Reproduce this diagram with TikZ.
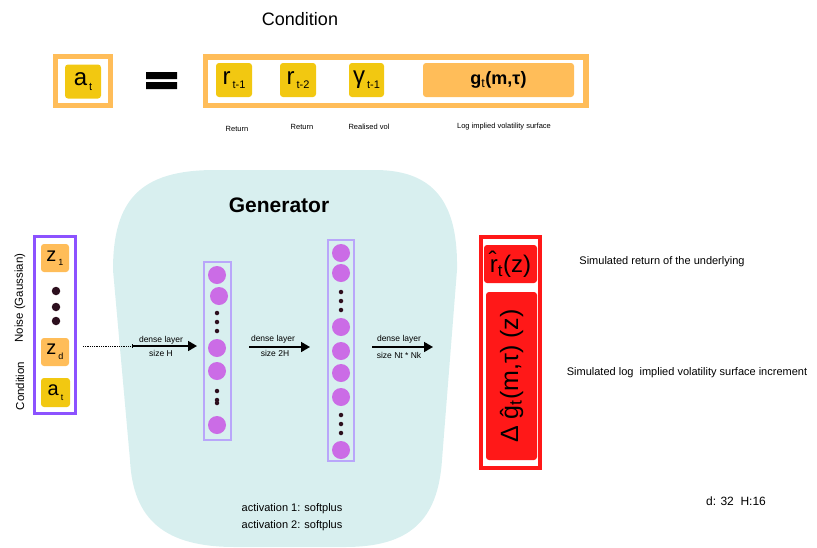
\documentclass[tikz,border=0pt]{standalone}
\usepackage{fontspec}
\setmainfont{Liberation Sans}
\usetikzlibrary{positioning,arrows.meta,backgrounds}

\definecolor{condorange}{RGB}{255,189,89}
\definecolor{symyellow}{RGB}{242,200,17}
\definecolor{noisepurple}{RGB}{140,82,255}
\definecolor{layerlilac}{RGB}{185,166,250}
\definecolor{neuronpink}{RGB}{203,108,230}
\definecolor{dotdark}{RGB}{45,15,30}
\definecolor{genteal}{RGB}{216,239,239}
\definecolor{outred}{RGB}{255,24,24}

\newcommand{\lowsub}[2][11]{\kern2pt\raisebox{-4.5pt}{\fontsize{#1}{#1}\selectfont #2}}

\begin{document}
\begin{tikzpicture}[x=1pt,y=-1pt,
   framebox/.style={draw=#1,line width=5pt,inner sep=0pt},
   symbox/.style={fill=#1,rounded corners=3pt,inner sep=0pt,minimum width=36pt,
   minimum height=34pt,font=\fontsize{24}{24}\selectfont},
   symbox/.default=symyellow,
   smalllabel/.style={font=\fontsize{7.5}{8}\selectfont},
   neuron/.style={circle,fill=neuronpink,minimum size=18pt,inner sep=0pt},
   gap/.style={circle,fill=dotdark,minimum size=4.5pt,inner sep=0pt},
   layerbox/.style={draw=layerlilac,line width=2pt,inner sep=0pt},
   dense/.style={line width=1.6pt,-{Triangle[length=9pt,width=10pt]}},
   layertext/.style={font=\fontsize{8.5}{9}\selectfont,inner sep=1pt},
   sidetext/.style={font=\fontsize{11}{12}\selectfont}]
 \useasboundingbox (0,0) rectangle (817,547);

 % generator background
 \fill[genteal] (113,270) .. controls (113,200) and (140,170) .. (215,170) -- (375,170)
   .. controls (440,170) and (458,210) .. (457,270) -- (442,460)
   .. controls (438,520) and (410,547) .. (345,547) -- (235,547)
   .. controls (165,547) and (133,520) .. (130,460) -- cycle;

 % condition row
 \node[font=\fontsize{18}{20}\selectfont] (condtitle) at (300,19) {Condition};
 \node[framebox=condorange,minimum width=55pt,minimum height=49pt] (atframe) at (82.5,81) {};
 \node[symbox] (atsym) at (83,81.5) {a\lowsub{t}};
 \fill (146,72) rectangle (177,79) (146,82) rectangle (177,89);
 \node[framebox=condorange,line width=5.5pt,minimum width=380.5pt,minimum height=48.5pt] (condframe) at (395.75,81.25) {};
 \node[symbox] (rone) at (234,80) {r\lowsub{t-1}};
 \node[symbox] (rtwo) at (298,80) {r\lowsub{t-2}};
 \node[symbox,minimum width=35pt] (volsym) at (366.5,80) {γ\lowsub{t-1}};
 \node[symbox=condorange,minimum width=151pt,font=\fontsize{18}{18}\selectfont\bfseries] (gsurf) at (498.5,80) {g\textsubscript{\mdseries t}(m,τ)};
 \node[smalllabel] (retlab1) at (237,129) {Return};
 \node[smalllabel] (retlab2) at (302,127) {Return};
 \node[smalllabel] (vollab) at (369,127) {Realised vol};
 \node[smalllabel] (surflab) at (504,127) {Log implied volatility surface};

 % input column
 \node[draw=noisepurple,line width=3pt,minimum width=41pt,minimum height=177pt,inner sep=0pt] (noisebox) at (55,325) {};
 \node[symbox=condorange,minimum width=28pt,minimum height=28pt,font=\fontsize{20}{20}\selectfont] (zone) at (55,258) {z\lowsub[9]{1}};
 \node[symbox=condorange,minimum width=28pt,minimum height=28pt,font=\fontsize{20}{20}\selectfont] (zd) at (55,352) {z\lowsub[9]{d}};
 \node[symbox,minimum width=29pt,minimum height=29pt,font=\fontsize{20}{20}\selectfont] (atin) at (55.5,392.5) {a\lowsub[9]{t}};
 \foreach \y in {291,307,321}
   \node[gap,minimum size=8.5pt] (ndot-\y) at (56,\y) {};
 \node[sidetext,rotate=90,font=\fontsize{11.5}{12}\selectfont] (noiselab) at (20,298) {Noise (Gaussian)};
 \node[sidetext,rotate=90,font=\fontsize{11.5}{12}\selectfont] (condlab) at (20,386) {Condition};

 % hidden layers
 \node[layerbox,minimum width=27pt,minimum height=178pt] (hidone) at (217.5,351) {};
 \foreach \x/\y [count=\i] in {217/275,219/296,217/348,217/371,217/425}
   \node[neuron] (h1-\i) at (\x,\y) {};
 \foreach \y [count=\i] in {313,322,331,391,400,403}
   \node[gap] (g1-\i) at (217,\y) {};
 \node[layerbox,minimum width=26pt,minimum height=221pt] (hidtwo) at (341,350.5) {};
 \foreach \y [count=\i] in {253,273,327,351,373,397,450}
   \node[neuron] (h2-\i) at (341,\y) {};
 \foreach \y [count=\i] in {292,301,310,415,424,433}
   \node[gap] (g2-\i) at (341,\y) {};
 \node[font=\fontsize{21}{22}\selectfont\bfseries] (gentitle) at (279,205) {Generator};

 % dense layers
 \coordinate (in0) at (83,346);
 \coordinate (in1) at (133,346);
 \coordinate (in2) at (197,346);
 \draw[densely dotted,line width=0.8pt,-{Bar[width=4pt]}] (in0) -- (in1);
 \draw[dense] (in1) -- (in2);
 \node[layertext] (d1a) at (161,340) {dense layer};
 \node[layertext] (d1b) at (161,353) {size H};
 \coordinate (mid0) at (249,347);
 \coordinate (mid1) at (310,347);
 \draw[dense] (mid0) -- (mid1);
 \node[layertext] (d2a) at (273,339) {dense layer};
 \node[layertext] (d2b) at (275,353) {size 2H};
 \coordinate (out0) at (372,347);
 \coordinate (out1) at (433,347);
 \draw[dense] (out0) -- (out1);
 \node[layertext] (d3a) at (399,339) {dense layer};
 \node[layertext] (d3b) at (399,355) {size Nt * Nk};

 \node[align=center,font=\fontsize{11}{17}\selectfont] (actlab) at (292,517.5) {activation 1: softplus\\activation 2: softplus};

 % output
 \node[draw=outred,line width=4pt,minimum width=59pt,minimum height=231pt,inner sep=0pt] (outframe) at (510.5,352.5) {};
 \node[fill=outred,rounded corners=3pt,minimum width=53pt,minimum height=38pt,inner sep=0pt,font=\fontsize{24}{24}\selectfont] (rhat) at (510.5,264) {\^{r}\textsubscript{t}(z)};
 \node[fill=outred,rounded corners=3pt,rotate=90,minimum width=168pt,minimum height=51pt,inner sep=0pt,font=\fontsize{25}{25}\selectfont] (ghat) at (511.5,376) {Δ ĝ\textsubscript{t}(m,τ) (z)};
 \node[sidetext] (rhatlab) at (662,262) {Simulated return of the underlying};
 \node[sidetext] (ghatlab) at (687,373) {Simulated log\ \ implied volatility surface increment};
 \node[font=\fontsize{12}{12}\selectfont] (sizelab) at (736,501) {d: 32\ \ H:16};
\end{tikzpicture}
\end{document}
